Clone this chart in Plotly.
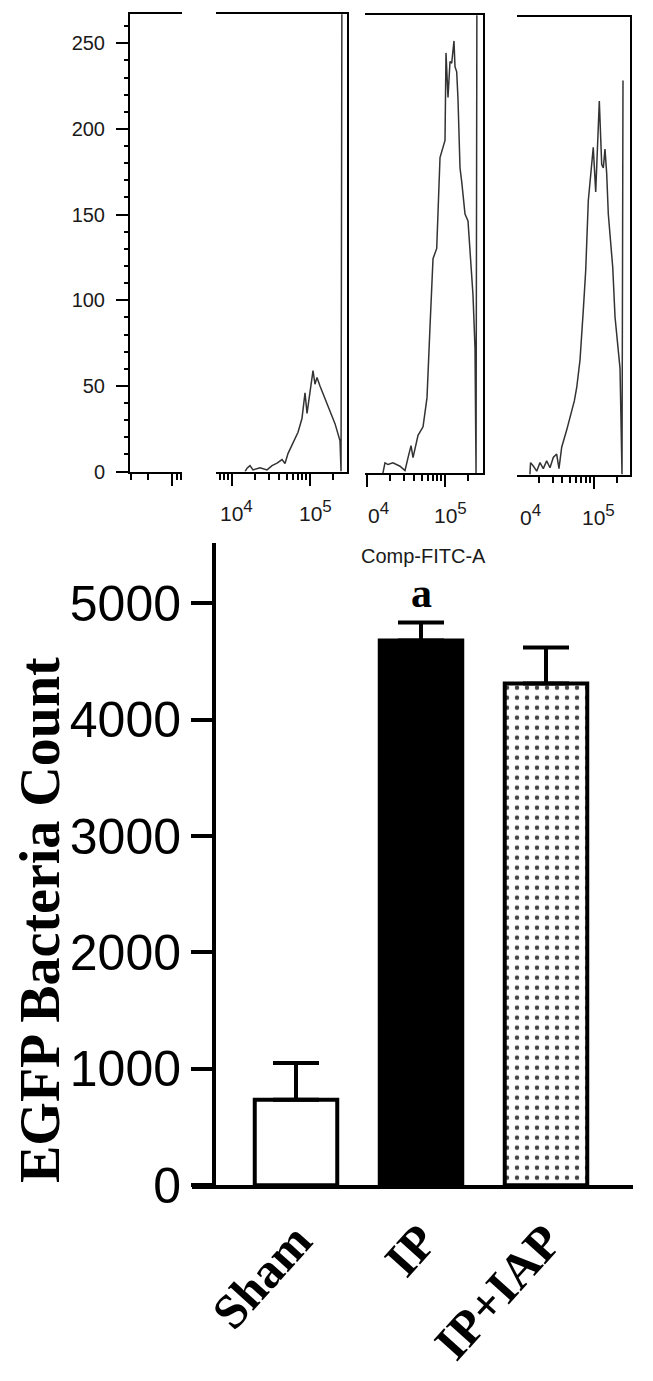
import math
import plotly.graph_objects as go

# ---------------- data ----------------
# Flow cytometry histograms (Comp-FITC-A intensity vs. count)
fitc_B = [14700, 15600, 17000, 18600, 22900, 28100, 32600, 37800, 43800, 47800, 52200,
          60500, 70200, 78900, 86300, 91600, 100000, 109300, 115900, 122900, 134300,
          155700, 180500, 209200, 242500, 250000, 257000]
count_B = [0, 2, 3.5, 1, 2.3, 1, 3.5, 5, 7, 4.7, 10.5,
           17, 23, 31, 46, 34, 45.5, 59, 51, 55, 50,
           43, 36, 28, 18, 0, 300]

fitc_C = [16000, 17000, 18600, 21500, 26500, 30700, 33600, 36700, 38900, 45100, 52300,
          58800, 64200, 70200, 78300, 86300, 100000, 103000, 109300, 115900, 121900,
          130400, 134300, 141200, 146800, 155700, 163700, 180500, 197200, 219800, 228400,
          242500, 250000, 257000]
count_C = [0, 6, 5, 6, 4, 1.5, 9, 16, 9, 22, 27,
           44, 85, 125, 131, 184, 194, 245, 219, 240, 239,
           252, 237, 234, 218, 178, 170, 151, 147, 112, 104,
           73, 0, 300]

fitc_D = [15300, 15600, 16900, 18700, 20600, 22700, 25100, 27700, 30500, 33700, 36100,
          39100, 45300, 52600, 56800, 61000, 67200, 74000, 79400, 85800, 99300,
          106700, 111900, 118700, 127400, 133600, 140400, 147500, 154900, 166200, 176400,
          188800, 208000, 218800, 232000, 238800]
count_D = [0, 7, 5, 2, 7, 3.5, 8, 4, 10, 12, 3.5,
           16, 26, 37, 43, 51, 67, 96, 119, 160, 191,
           165, 189, 218, 181, 179, 190, 176, 152, 137, 121,
           92, 71, 62, 0, 230]

hist_y_ticks = [0, 50, 100, 150, 200, 250]
hist_major = [1e4, 1e5]
hist_minor_B = [6e3, 7e3, 8e3, 9e3, 2e4, 3e4, 4e4, 5e4, 6e4, 7e4, 8e4, 9e4, 2e5]
hist_minor_CD = [2e4, 3e4, 4e4, 5e4, 6e4, 7e4, 8e4, 9e4, 2e5]
labels_B = ['10', '10']
labels_C = ['0', '10']
labels_D = ['0', '10']
exponents = ['4', '5']
panelA_major = [41.7]
panelA_minor = [1, 18.3, 46.7, 51]
hist_xtitle = 'Comp-FITC-A'

# Bar chart
groups = ['Sham', 'IP', 'IP+IAP']
means = [735, 4680, 4310]
errs = [315, 155, 310]
bar_ticks = [0, 1000, 2000, 3000, 4000, 5000]
sig_label = 'a'
y_title = 'EGFP Bacteria Count'

# ---------------- layout helpers ----------------
# page body has an 8px margin; the capture is squeezed vertically a little
OFF = 8
SY = 0.979
W, H = 637, 1395
def fx(p):
    return (p - OFF) / W
def fy(p):
    return 1 - (p / SY - OFF) / H

SANS = 'Liberation Sans, Arial, sans-serif'
SERIF = 'Liberation Serif, Times New Roman, serif'
HC = '#333333'
TXT = '#1a1a1a'

fig = go.Figure()

fig.add_trace(go.Scatter(x=[], y=[], xaxis='x', yaxis='y', mode='lines', showlegend=False))
for fx_, cy_, xa, ya in [(fitc_B, count_B, 'x2', 'y2'), (fitc_C, count_C, 'x3', 'y3'), (fitc_D, count_D, 'x4', 'y4')]:
    fig.add_trace(go.Scatter(x=fx_, y=cy_, xaxis=xa, yaxis=ya, mode='lines',
                             line=dict(color=HC, width=1.5), showlegend=False, hoverinfo='skip'))

fig.add_trace(go.Bar(
    x=groups, y=means, xaxis='x5', yaxis='y5', width=0.66, showlegend=False,
    marker=dict(color=['white', 'black', 'white'], line=dict(color='black', width=4),
                pattern=dict(shape=['', '', '.'], fgcolor='black', fgopacity=1, size=10,
                             solidity=0.16, fillmode='overlay')),
    error_y=dict(type='data', symmetric=False, array=errs, arrayminus=[0, 0, 0],
                 color='black', thickness=4, width=23),
))

ydomAB = [fy(471), fy(14)]
ydomC = [fy(472.5), fy(15)]
ydomD = [fy(474), fy(17)]

def hist_x(domain, rng, minor_vals, anchor, log=True):
    d = dict(domain=domain, anchor=anchor, range=rng, showline=True, mirror=True,
             linecolor='black', linewidth=2, ticks='outside', ticklen=12, tickwidth=1.5,
             tickcolor='black', showticklabels=False, showgrid=False, zeroline=False,
             minor=dict(tickvals=minor_vals, ticks='outside', ticklen=6, tickwidth=1.5,
                        tickcolor='black', showgrid=False))
    if log:
        d.update(type='log', tickvals=hist_major)
    else:
        d.update(tickvals=panelA_major)
    return d

def hist_yr(domain, anchor):
    return dict(domain=domain, anchor=anchor, range=[0, 267], side='right', showline=True,
                linecolor='black', linewidth=2, showticklabels=False, ticks='',
                showgrid=False, zeroline=False)

rngB = [4 - 16 / 78, 5 + 37 / 78]
rngC = [4 - 2 / 78, 5 + 38 / 78]
rngD = [4 + 1.5 / 78, 5 + (630 - 593.5) / 78]

layout = dict(
    width=W, height=H, margin=dict(l=0, r=0, t=0, b=0, pad=0),
    paper_bgcolor='white', plot_bgcolor='rgba(0,0,0,0)', showlegend=False,
    xaxis=hist_x([fx(130), fx(182)], [0, 52], panelA_minor, 'y', log=False),
    yaxis=dict(domain=ydomAB, anchor='x', range=[0, 267], showline=True, linecolor='black',
               linewidth=2, ticks='outside', ticklen=12, tickwidth=1.5, tickcolor='black',
               tickvals=hist_y_ticks, tickfont=dict(family=SANS, size=20, color=TXT),
               ticklabelstandoff=7, showgrid=False, zeroline=False,
               minor=dict(dtick=10, ticks='outside', ticklen=4, tickwidth=1.5,
                          tickcolor='black', showgrid=False)),
    xaxis2=hist_x([fx(216), fx(347)], rngB, hist_minor_B, 'y2'),
    yaxis2=hist_yr(ydomAB, 'x2'),
    xaxis3=hist_x([fx(365), fx(483)], rngC, hist_minor_CD, 'y3'),
    yaxis3=hist_yr(ydomC, 'x3'),
    xaxis4=hist_x([fx(517), fx(630)], rngD, hist_minor_CD, 'y4'),
    yaxis4=hist_yr(ydomD, 'x4'),
    xaxis5=dict(domain=[fx(192), fx(633)], anchor='y5', range=[-0.832, 2.696],
                showline=True, linecolor='black', linewidth=4, ticks='',
                tickangle=-48, ticklabelstandoff=3,
                tickfont=dict(family=SERIF, size=49, color='black', weight='bold'),
                showgrid=False, zeroline=False),
    yaxis5=dict(domain=[fy(1184), fy(542)], anchor='free', position=fx(214), range=[0, 5520],
                showline=True, linecolor='black', linewidth=4, ticks='outside', ticklen=21,
                tickwidth=4, tickcolor='black', tickvals=bar_ticks,
                tickfont=dict(family=SANS, size=50, color='black'),
                showgrid=False, zeroline=False),
)

annotations = []
for xa, rng, labs, baseline in [('x2', rngB, labels_B, 521), ('x3', rngC, labels_C, 523),
                                ('x4', rngD, labels_D, 525)]:
    for v, t, e in zip(hist_major, labs, exponents):
        txt = t + '<sup><span style="font-size:17px">' + e + '</span></sup>'
        if t == '0':
            ax, anc, sh = rng[0], 'left', 1
        else:
            ax, anc, sh = math.log10(v), 'center', 5
        annotations.append(dict(x=ax, y=fy(baseline - 11), xref=xa, yref='paper', text=txt,
                                showarrow=False, xanchor=anc, yanchor='middle', xshift=sh,
                                font=dict(family=SANS, size=21, color=TXT)))
annotations.append(dict(x=fx(423), y=fy(555), xref='paper', yref='paper', text=hist_xtitle,
                        showarrow=False, xanchor='center', yanchor='middle',
                        font=dict(family=SANS, size=20, color=TXT)))
annotations.append(dict(x='IP', y=5090, xref='x5', yref='y5', text=sig_label, showarrow=False,
                        xanchor='center', yanchor='middle',
                        font=dict(family=SERIF, size=42, color='black', weight='bold')))
annotations.append(dict(x=fx(40), y=fy(919), xref='paper', yref='paper', text=y_title,
                        textangle=-90, showarrow=False, xanchor='center', yanchor='middle',
                        font=dict(family=SERIF, size=56, color='black', weight='bold')))
layout['annotations'] = annotations

fig.update_layout(**layout)
fig.write_html('out.html')
